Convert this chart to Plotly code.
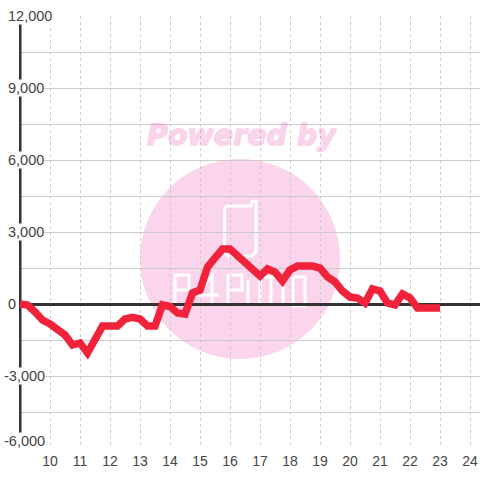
import plotly.graph_objects as go

hours = [9 + 0.25 * i for i in range(57)]
values = [0, -40, -330, -670, -830, -1040, -1290, -1710, -1625, -2040, -1500, -920, -920, -920,
          -625, -560, -625, -920, -920, -40, -105, -375, -420, 460, 580, 1540, 1920, 2290, 2290,
          2000, 1790, 1500, 1170, 1460, 1330, 960, 1420, 1580, 1580, 1580, 1500, 1125, 920, 540,
          290, 250, 40, 625, 540, 40, -40, 420, 250, -170, -170, -170, -170]
x_ticks = list(range(10, 25))
y_label_vals = [12000, 9000, 6000, 3000, 0, -3000, -6000]
y_labels = ["12,000", "9,000", "6,000", "3,000", "0", "-3,000", "-6,000"]
y_grid_vals = list(range(-6000, 12001, 1500))

INK = "#444444"
GRID = "#cccccc"
PINK = "#fbd5ec"


def px_x(p):
    return 10 + (p - 50) / 30


def px_y(p):
    return (304 - p) * 3000 / 72


fig = go.Figure()
fig.add_trace(go.Scatter(x=hours, y=values, mode="lines", cliponaxis=False,
                         line=dict(color="#f0233a", width=7.5), hoverinfo="skip"))

shapes = [
    dict(type="circle", xref="x", yref="y", layer="below",
         x0=px_x(140), x1=px_x(340), y0=px_y(359), y1=px_y(159), fillcolor=PINK, line_width=0),
    dict(type="line", xref="x", yref="y", layer="between",
         x0=9, x1=9, y0=-6000, y1=12000, line=dict(color="#333333", width=3)),
]


def outline(points):
    return "M " + " L ".join(f"{px_x(a)},{px_y(b)}" for a, b in points)


logo = [
    [(226, 206), (224.5, 210), (224.5, 252), (228, 256), (252, 256), (256, 252), (256, 201), (252, 201), (251, 206), (226, 206)],
    [(175, 306), (175, 275), (189, 275), (189, 290), (175, 290)],
    [(212, 306), (212, 275), (198, 295), (219, 295)],
    [(228, 306), (228, 275), (242, 275), (242, 290), (228, 290)],
    [(248, 280), (248, 306)],
    [(260, 306), (260, 277), (283, 277), (283, 306)],
    [(271, 277), (271, 306)],
    [(293, 277), (305, 277), (305, 306), (293, 306), (293, 277)],
]
for pts in logo:
    shapes.append(dict(type="path", xref="x", yref="y", layer="below", path=outline(pts),
                       line=dict(color="white", width=3)))

annotations = [
    dict(x=9, y=v, xref="x", yref="y", text=t, showarrow=False, xanchor="left",
         xshift=-13 if v >= 0 else -17.5, yshift=7 if v == -6000 else 0,
         bgcolor="white", borderpad=0,
         font=dict(family="Liberation Sans", size=14.5, color=INK))
    for v, t in zip(y_label_vals, y_labels)
]
stroke = ", ".join(f"{a}px {b}px 0 #f064b4" for a, b in [(0.7, 0), (-0.7, 0), (0, 0.7), (0, -0.7)])
annotations.append(dict(x=px_x(242), y=px_y(135), xref="x", yref="y", text="<b><i>Powered by</i></b>",
                        showarrow=False, opacity=0.27,
                        font=dict(family="DejaVu Sans", size=28.5, color="#f064b4", shadow=stroke)))

fig.update_layout(
    width=480, height=480, autosize=False,
    margin=dict(l=19, r=0, t=16, b=32),
    paper_bgcolor="white", plot_bgcolor="rgba(0,0,0,0)",
    showlegend=False, shapes=shapes, annotations=annotations,
    xaxis=dict(range=[px_x(19), px_x(480)], tickvals=x_ticks, showgrid=True, gridcolor=GRID, gridwidth=1,
               griddash="3px,3px", zeroline=False, showline=False, ticks="", ticklabelstandoff=3,
               tickfont=dict(family="Liberation Sans", size=14, color=INK)),
    yaxis=dict(range=[-6000, 12000], tickvals=y_grid_vals, showticklabels=False, showgrid=True, gridcolor=GRID,
               gridwidth=1.2, zeroline=True, zerolinecolor="#333333", zerolinewidth=3, showline=False, ticks=""),
)
fig.write_html("out.html", config=dict(displayModeBar=False),
               post_script="document.body.style.margin='0';document.body.style.overflow='hidden';")
